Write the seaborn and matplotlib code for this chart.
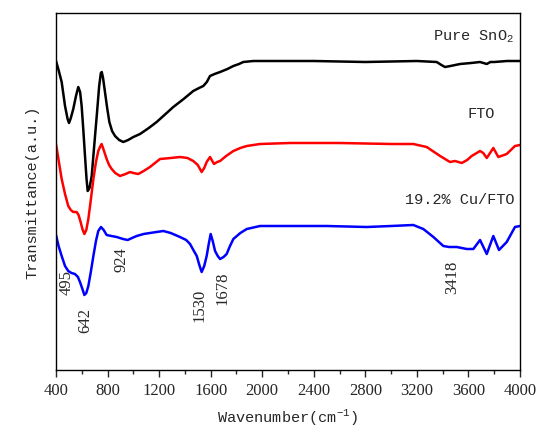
import matplotlib
matplotlib.use("Agg")

import pandas as pd
import matplotlib.pyplot as plt
import seaborn as sns
from matplotlib.ticker import MultipleLocator

# --- spectra (wavenumber, transmittance a.u. with offset) ---
sno2_wn = [400, 420, 444, 470, 490, 501, 515, 534, 555, 573, 587, 599, 612, 625,
           637, 646, 660, 677, 695, 716, 735, 748, 755, 765, 780, 797, 814, 835,
           858, 890, 922, 960, 1000, 1052, 1120, 1181, 1250, 1310, 1390, 1465,
           1510, 1543, 1570, 1595, 1630, 1673, 1730, 1776, 1820, 1853, 1931, 2138,
           2400, 2800, 3200, 3354, 3390, 3418, 3460, 3535, 3620, 3690, 3742,
           3770, 3800, 3900, 4000]
sno2_t = [309, 300, 288, 264, 251, 247, 252, 261, 274, 283, 278, 264, 240, 214,
          191, 179, 182, 194, 222, 254, 284, 297, 298, 292, 278, 262, 248, 239,
          234, 230, 228, 230, 233, 236, 242, 248, 256, 263, 271, 279,
          282, 284, 288, 294, 296, 298, 301, 304, 306, 308, 309, 309,
          309, 308, 309, 308, 305, 303, 304, 306, 307, 308, 306,
          308, 308, 309, 309]

fto_wn = [400, 420, 444, 470, 495, 515, 534, 560, 575, 591, 605, 620, 635, 651,
          670, 690, 710, 728, 745, 754, 770, 793, 812, 832, 860, 897, 940, 974,
          1000, 1039, 1080, 1129, 1207, 1290, 1362, 1420, 1465, 1500, 1530, 1550,
          1569, 1595, 1626, 1650, 1673, 1720, 1776, 1830, 1880, 1983, 2216, 2600,
          3000, 3172, 3276, 3380, 3457, 3496, 3548, 3590, 3625, 3690, 3715,
          3742, 3793, 3832, 3897, 3961, 4000]
fto_t = [226, 210, 191, 176, 164, 160, 158, 158, 155, 148, 141, 136, 140, 151,
         170, 191, 208, 219, 224, 226, 220, 211, 205, 201, 197, 194, 196, 198,
         197, 196, 199, 203, 211, 212, 213, 212, 209, 205, 198, 202,
         208, 213, 206, 208, 209, 214, 219, 222, 224, 226, 227, 227,
         226, 226, 223, 214, 208, 209, 207, 210, 214, 219, 217,
         212, 222, 213, 216, 224, 225]

cu_wn = [400, 420, 444, 470, 495, 520, 547, 570, 586, 605, 620, 635, 651, 670,
         690, 710, 728, 749, 770, 793, 830, 871, 920, 956, 990, 1026, 1080, 1129,
         1180, 1233, 1290, 1362, 1410, 1440, 1470, 1492, 1512, 1530, 1550, 1569,
         1585, 1600, 1616, 1634, 1655, 1673, 1700, 1724, 1750, 1776, 1830, 1880,
         1983, 2216, 2500, 2811, 3000, 3172, 3250, 3328, 3405, 3450, 3509, 3587,
         3638, 3690, 3742, 3793, 3837, 3897, 3961, 4000]
cu_t = [135, 124, 114, 104, 99, 97, 96, 93, 88, 81, 75, 77, 84, 98,
        114, 129, 139, 143, 140, 135, 134, 133, 131, 130, 132, 134, 136, 137,
        138, 139, 137, 133, 130, 126, 119, 114, 105, 98, 104, 114,
        126, 136, 129, 119, 114, 111, 113, 116, 124, 131, 137, 141,
        144, 144, 144, 143, 144, 145, 141, 133, 124, 123, 123, 121,
        121, 130, 116, 134, 120, 128, 143, 144]

samples = ["Pure SnO2", "FTO", "19.2% Cu/FTO"]
colors = ["black", "red", "blue"]

# peak labels for the Cu/FTO curve
peak_labels = ["495", "642", "924", "1530", "1678", "3418"]
peak_x = [480, 628, 910, 1517, 1693, 3470]
peak_y = [88, 50, 111, 66, 83, 94]

frames = []
for name, wn, t in zip(samples, [sno2_wn, fto_wn, cu_wn], [sno2_t, fto_t, cu_t]):
    frames.append(pd.DataFrame({"wn": wn, "T": t, "sample": name}))
df = pd.concat(frames, ignore_index=True)

sns.set_theme(style="ticks")
plt.rcParams["font.family"] = ["Liberation Serif", "DejaVu Serif"]
plt.rcParams["mathtext.fontset"] = "custom"
plt.rcParams["mathtext.rm"] = "Liberation Mono"

fig = plt.figure(figsize=(5.39, 4.27), dpi=100)
ax = fig.add_axes([56 / 539, 1 - 371 / 427, 464 / 539, 357 / 427])

sns.lineplot(data=df, x="wn", y="T", hue="sample", palette=colors,
             hue_order=samples, sort=False, estimator=None, lw=1.8,
             legend=False, ax=ax)
for line in ax.lines:
    line.set_solid_joinstyle("round")

ax.set_xlim(400, 4000)
ax.set_ylim(0, 357)
ax.xaxis.set_major_locator(MultipleLocator(400))
ax.xaxis.set_minor_locator(MultipleLocator(200))
ax.tick_params(axis="x", which="major", direction="out", length=5, width=1,
               labelsize=12, pad=4)
ax.tick_params(axis="x", which="minor", direction="out", length=3, width=1)
ax.set_yticks([])
for s in ax.spines.values():
    s.set_linewidth(1.0)
    s.set_color("black")

mono = "Liberation Mono"
ax.set_xlabel(r"Wavenumber(cm$^{-1}$)", family=mono, fontsize=11, labelpad=6)
ax.set_ylabel("Transmittance(a.u.)", family=mono, fontsize=11, labelpad=12)

ax.text(3950, 334, r"Pure SnO$_2$", family=mono, fontsize=11, ha="right",
        va="center")
ax.text(3695, 257, "FTO", family=mono, fontsize=11, ha="center", va="center")
ax.text(3960, 171, "19.2% Cu/FTO", family=mono, fontsize=11, ha="right",
        va="center")

for lab, x, y in zip(peak_labels, peak_x, peak_y):
    ax.text(x, y, lab, rotation=90, fontsize=12, ha="center", va="center")

fig.savefig("out.png", dpi=100)
